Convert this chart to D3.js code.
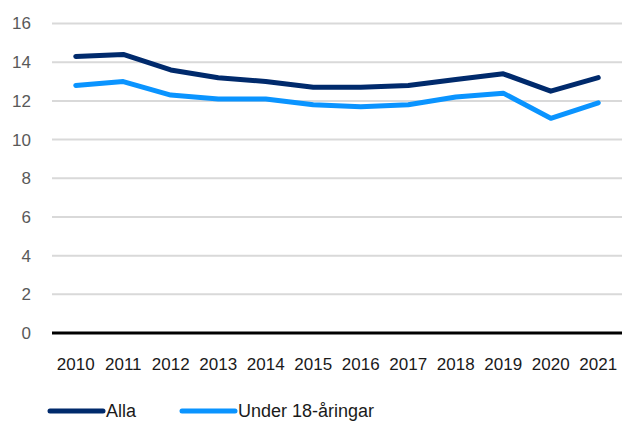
<!DOCTYPE html>
<html>
<head>
<meta charset="utf-8">
<script src="https://cdn.jsdelivr.net/npm/d3@7"></script>
<style>
  body { margin: 0; background: #fff; }
  svg { display: block; font-family: "Liberation Sans", Arial, sans-serif; }
</style>
</head>
<body>
<svg id="chart" width="622" height="421"></svg>
<script>
// Data
const years = ["2010", "2011", "2012", "2013", "2014", "2015", "2016", "2017", "2018", "2019", "2020", "2021"];
const alla = [14.3, 14.4, 13.6, 13.2, 13.0, 12.7, 12.7, 12.8, 13.1, 13.4, 12.5, 13.2];
const under18 = [12.8, 13.0, 12.3, 12.1, 12.1, 11.8, 11.7, 11.8, 12.2, 12.4, 11.1, 11.9];
const yTicks = [0, 2, 4, 6, 8, 10, 12, 14, 16];

const navy = "#002a6c";
const blue = "#0a94ff";

const svg = d3.select("#chart");
const marginLeft = 52, marginRight = 0, marginTop = 23.5, plotBottom = 333;
const width = 622, height = 421;

const x = d3.scaleBand()
    .domain(years)
    .range([marginLeft, width - marginRight]);

const y = d3.scaleLinear()
    .domain([0, 16])
    .range([plotBottom, marginTop]);

// gridlines
svg.append("g")
    .selectAll("line")
    .data(yTicks.filter(d => d > 0))
    .enter()
    .append("line")
    .attr("x1", marginLeft)
    .attr("x2", width - marginRight)
    .attr("y1", d => y(d))
    .attr("y2", d => y(d))
    .attr("stroke", "#d9d9d9")
    .attr("stroke-width", 2);

// y labels
svg.append("g")
    .selectAll("text")
    .data(yTicks)
    .enter()
    .append("text")
    .attr("x", 31)
    .attr("y", d => y(d))
    .attr("dy", "0.35em")
    .attr("text-anchor", "end")
    .attr("font-size", "17px")
    .attr("fill", "#595959")
    .text(d => d);

// zero axis
svg.append("line")
    .attr("x1", marginLeft)
    .attr("x2", width - marginRight)
    .attr("y1", y(0))
    .attr("y2", y(0))
    .attr("stroke", "#000")
    .attr("stroke-width", 3);

// x labels
svg.append("g")
    .selectAll("text")
    .data(years)
    .enter()
    .append("text")
    .attr("x", d => x(d) + x.bandwidth() / 2)
    .attr("y", 364)
    .attr("dy", "0.35em")
    .attr("text-anchor", "middle")
    .attr("font-size", "17px")
    .attr("fill", "#1a1a1a")
    .text(d => d);

const line = d3.line()
    .x((d, i) => x(years[i]) + x.bandwidth() / 2)
    .y(d => y(d));

const series = [
    { name: "Alla", values: alla, color: navy },
    { name: "Under 18-åringar", values: under18, color: blue }
];

svg.append("g")
    .selectAll("path")
    .data(series.slice().reverse())
    .enter()
    .append("path")
    .attr("d", d => line(d.values))
    .attr("fill", "none")
    .attr("stroke", d => d.color)
    .attr("stroke-width", 5)
    .attr("stroke-linecap", "round")
    .attr("stroke-linejoin", "round");

// legend
const legendX = [50, 182];
const legend = svg.append("g")
    .selectAll("g")
    .data(series)
    .enter()
    .append("g")
    .attr("transform", (d, i) => `translate(${legendX[i]},411)`);

legend.append("line")
    .attr("x1", 0)
    .attr("x2", 53)
    .attr("stroke", d => d.color)
    .attr("stroke-width", 5)
    .attr("stroke-linecap", "round");

legend.append("text")
    .attr("x", 56)
    .attr("dy", "0.35em")
    .attr("font-size", "18px")
    .attr("fill", "#1a1a1a")
    .text(d => d.name);
</script>
</body>
</html>
